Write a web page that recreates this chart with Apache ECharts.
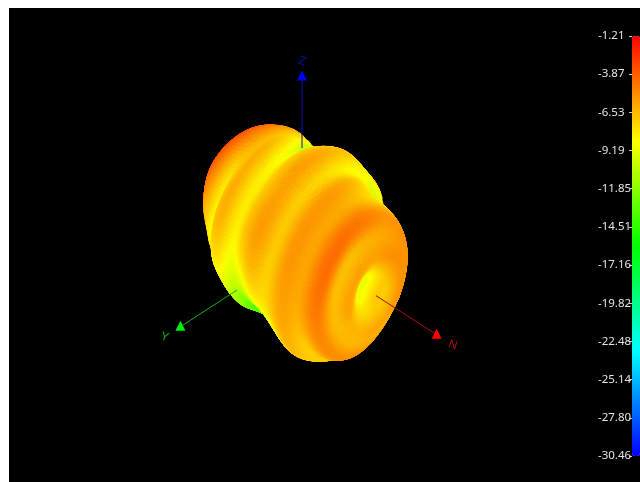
<!DOCTYPE html>
<html><head><meta charset="utf-8">
<style>html,body{margin:0;padding:0;background:#fff}#c{width:640px;height:482px}</style>
<script src="https://cdn.jsdelivr.net/npm/echarts@6/dist/echarts.min.js"></script>
</head><body><div id="c"></div>
<script>
var colorbarLabels=['-30.46','-27.80','-25.14','-22.48','-19.82','-17.16','-14.51','-11.85','-9.19','-6.53','-3.87','-1.21'];
var gainMin=-30.46, gainMax=-1.21;
var thetaDeg=[0,10,20,30,40,50,60,70,80,90,100,110,120,130,140,150,160,170,180];
var phiDeg=[0,30,60,90,120,150,180,210,240,270,300,330];
var gain=[
[-7,-7,-7,-7,-7,-7,-7,-7,-7,-7,-7,-7],
[-8.8,-9,-9,-8.5,-7.5,-7,-7,-7,-7,-7,-7.5,-8],
[-6,-6,-6,-6,-5.5,-5.5,-5.5,-5.5,-6,-6,-6.5,-6.5],
[-6.6,-6.7,-6.7,-6.3,-6,-5.5,-5.5,-5.8,-6.3,-6.3,-6.5,-6.6],
[-4.8,-4.4,-4.4,-4.8,-5.5,-5.5,-5.5,-6,-6,-5.6,-5.3,-5.2],
[-6.2,-6,-6,-6.4,-7.5,-7.5,-6.5,-7,-7,-6.5,-7,-7],
[-6,-5.6,-5.6,-6,-8,-11,-8.5,-8,-7.5,-7,-7.3,-6.5],
[-7.6,-7.1,-7.1,-7.6,-8.5,-8,-8,-8,-8,-8.5,-9.3,-9.5],
[-8.2,-5.9,-5.9,-6,-7,-8.3,-8,-8,-8,-9.5,-13.3,-13],
[-9.5,-6.9,-6.9,-7,-8,-8.6,-9,-9,-9,-11,-13.5,-13.5],
[-9.8,-8.2,-8.2,-9,-11,-10,-10,-10,-10,-11,-13.5,-13],
[-8.5,-6.5,-6.3,-6.8,-9.5,-9,-9,-9,-9,-10,-12.5,-11],
[-8.3,-7,-7,-6.5,-6.2,-7,-7,-7,-8,-9,-11,-11.5],
[-9,-8.3,-7.5,-4.5,-4.5,-5,-5,-6,-7,-8,-10,-10],
[-8.8,-6.5,-5,-3.5,-4,-5,-5,-6,-7,-8,-9,-9.4],
[-7.5,-5.5,-3.8,-3.5,-5,-5,-5,-5,-5,-5,-6,-7],
[-5.5,-5,-4.5,-5,-5,-5,-5,-5,-5,-5,-5,-5],
[-6,-6,-6,-6,-6,-6,-6,-6,-6,-6,-6,-6],
[-6,-6,-6,-6,-6,-6,-6,-6,-6,-6,-6,-6]
];
var axisNames=['N','Y','Z'];
var axisColors=[['#a80c0c','#ff0000'],['#0cb40c','#00ee00'],['#0a0ab4','#0000ff']];
var axisStart=[116,113,120], axisLen=[211,211,206], labelAt=[1.12,1.13,1.09];
// View: screen x, screen y (down), depth of the N, Y, Z unit vectors
var view={x:[.638,-.576,0],y:[.411,.373,-.832],d:[.53,.642,.555]};
var radiusPerDb=4.9;
function project(n,y,z){return [view.x[0]*n+view.x[1]*y+view.x[2]*z,view.y[0]*n+view.y[1]*y+view.y[2]*z,view.d[0]*n+view.d[1]*y+view.d[2]*z];}
function cr(a,b,c,d,t){return .5*(2*b+(c-a)*t+(2*a-5*b+4*c-d)*t*t+(3*b-a-3*c+d)*t*t*t);}
function gainAt(th,ph){
  var ti=th/10, pi=((ph%360)+360)%360/30, i=Math.min(Math.floor(ti),17), j=Math.floor(pi)%12, u=ti-i, v=pi-Math.floor(pi);
  var vals=[];
  for(var k=-1;k<=2;k++){var r=gain[Math.max(0,Math.min(18,i+k))];
    vals.push(cr(r[(j+11)%12],r[j],r[(j+1)%12],r[(j+2)%12],v));}
  return cr(vals[0],vals[1],vals[2],vals[3],u);
}
function surf(th,ph){var g=gainAt(th,ph),r=radiusPerDb*(g-gainMin),t=th*Math.PI/180,p=ph*Math.PI/180;
  return project(r*Math.cos(t),r*Math.sin(t)*Math.cos(p),r*Math.sin(t)*Math.sin(p));}
var dT=1,dP=3,cells=[];
for(var t=0;t<180;t+=dT)for(var p=0;p<360;p+=dP){
  var c=surf(t+dT/2,p+dP/2);
  if(c[2]>-20) cells.push([t,p,gainAt(t+dT/2,p+dP/2),c[2]]);
}
cells.sort(function(a,b){return a[3]-b[3];});
var axisData=axisNames.map(function(n,i){return [i];});
var chart=echarts.init(document.getElementById('c'),null,{renderer:'canvas'});
chart.setOption({
 animation:false,backgroundColor:'#fff',
 grid:[{left:9,top:8,right:0,bottom:0,show:true,backgroundColor:'#000',borderWidth:0,containLabel:false},
       {left:632,width:8,top:36,height:420,show:false}],
 xAxis:[{type:'value',min:-293,max:338,show:false,gridIndex:0},{type:'value',show:false,gridIndex:1}],
 yAxis:[{type:'value',min:-240,max:234,inverse:true,show:false,gridIndex:0},
  {type:'category',gridIndex:1,data:colorbarLabels,boundaryGap:false,
   axisLine:{show:false},splitLine:{show:false},
   axisTick:{show:true,length:3,alignWithLabel:true,lineStyle:{color:'#cfcfcf',width:1}},
   axisLabel:{color:'#e4e4e4',fontFamily:'Noto Sans',fontSize:11.5,margin:34,align:'left',interval:0,hideOverlap:false,padding:[5,0,0,0]}}],
 visualMap:{type:'continuous',min:gainMin,max:gainMax,dimension:2,seriesIndex:0,calculable:false,hoverLink:false,
   itemWidth:8,itemHeight:420,left:632,top:36,padding:0,text:null,showLabel:false,
   inRange:{color:['#0000ff','#00ffff','#00ff00','#ffff00','#ff0000']}},
 series:[{type:'custom',xAxisIndex:0,yAxisIndex:0,coordinateSystem:'cartesian2d',clip:false,silent:true,progressive:0,
   data:cells,dimensions:['theta','phi','gain','depth'],encode:{x:0,y:1},
   renderItem:function(params,api){
     var t=api.value(0),p=api.value(1),col=api.visual('color');
     var pts=[surf(t,p),surf(t+dT,p),surf(t+dT,p+dP),surf(t,p+dP)].map(function(q){return api.coord([q[0],q[1]]);});
     return {type:'polygon',shape:{points:pts},style:{fill:col,stroke:col,lineWidth:1}};
   }},
  {type:'custom',xAxisIndex:0,yAxisIndex:0,clip:false,silent:true,z:5,data:axisData,encode:{x:0,y:0},
   renderItem:function(params,api){
     var i=api.value(0),u=[0,0,0];u[i]=1;
     function at(r){var q=project(u[0]*r,u[1]*r,u[2]*r);return api.coord([q[0],q[1]]);}
     var a=at(axisStart[i]),c=at(axisLen[i]),lab=at(axisLen[i]*labelAt[i]);
     return {type:'group',children:[
      {type:'line',shape:{x1:a[0],y1:a[1],x2:c[0],y2:c[1]},style:{stroke:axisColors[i][0],lineWidth:1}},
      {type:'polygon',shape:{points:[[c[0],c[1]-6],[c[0]+5,c[1]+4],[c[0]-5,c[1]+4]]},style:{fill:axisColors[i][1]}},
      {type:'text',x:lab[0],y:lab[1],rotation:-.3,style:{text:axisNames[i],fill:axisColors[i][0],font:'12px "Liberation Sans"',align:'center',verticalAlign:'middle'}}
     ]};
   }}]
});
</script></body></html>
